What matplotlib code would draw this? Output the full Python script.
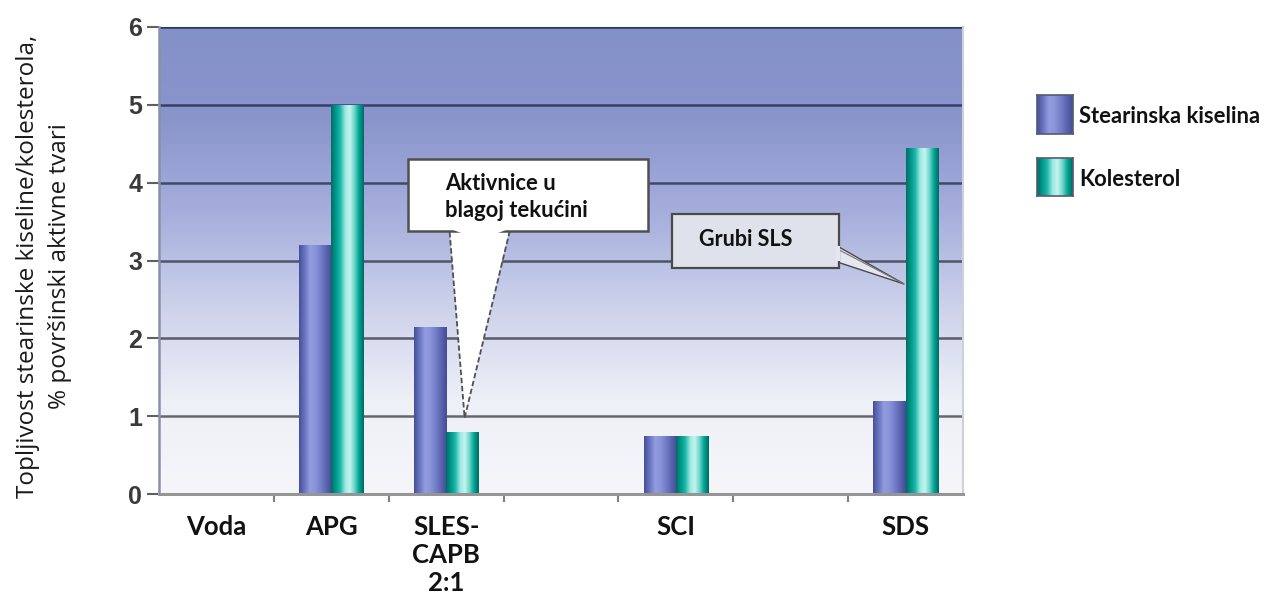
import numpy as np
import matplotlib
matplotlib.use("Agg")
import matplotlib.pyplot as plt
from matplotlib.colors import LinearSegmentedColormap, to_rgb
from matplotlib.patches import Polygon, Rectangle

categories = ["Voda", "APG", "SLES-\nCAPB\n2:1", "", "SCI", "", "SDS"]
stearinska = [0.0, 3.2, 2.15, 0.0, 0.75, 0.0, 1.2]
kolesterol = [0.0, 5.0, 0.8, 0.0, 0.75, 0.0, 4.45]
series_names = ["Stearinska kiselina", "Kolesterol"]
yticks = [0, 1, 2, 3, 4, 5, 6]

W, H = 1266, 596
fig = plt.figure(figsize=(W / 100, H / 100), dpi=100)
fig.patch.set_facecolor("white")

def px2fig(x0, y0, x1, y1):
    return [x0 / W, 1 - y1 / H, (x1 - x0) / W, (y1 - y0) / H]

ax = fig.add_axes(px2fig(159, 27, 963, 494))

blue_cmap = LinearSegmentedColormap.from_list(
    "b", ["#46509a", "#6a75c0", "#929ce0", "#8a94d8", "#737ec8", "#5a64b0", "#444e96"])
teal_cmap = LinearSegmentedColormap.from_list(
    "t", ["#006f66", "#00988b", "#20b8aa", "#9be8e0", "#c4f4ef", "#6fd6ca", "#00a595", "#006a62"])
bg_cmap = LinearSegmentedColormap.from_list(
    "bg", ["#f6f6fa", "#eef0f7", "#cdd2eb", "#a6afdc", "#8a95cc", "#8490c8"])

# background gradient
grad = np.linspace(0, 1, 256).reshape(-1, 1)
ax.imshow(grad, cmap=bg_cmap, origin="lower", aspect="auto",
          extent=[0, 1, 0, 1], transform=ax.transAxes, zorder=0)

x = np.arange(len(categories))
bw = 0.28
ax.set_xlim(-0.5, len(categories) - 0.5)
ax.set_ylim(0, 6)

# gridlines
top_c = np.array(to_rgb("#2c3463"))
bot_c = np.array(to_rgb("#707070"))
for t in yticks[1:]:
    f = t / 6.0
    c = bot_c * (1 - f) + top_c * f
    ax.axhline(t, color=c, lw=1.8, zorder=1)

bars1 = ax.bar(x - bw / 2, stearinska, bw, color="none", edgecolor="none", zorder=2)
bars2 = ax.bar(x + bw / 2, kolesterol, bw, color="none", edgecolor="none", zorder=2)
hgrad = np.linspace(0, 1, 64).reshape(1, -1)
for bars, cm in ((bars1, blue_cmap), (bars2, teal_cmap)):
    for r in bars:
        h = r.get_height()
        if h <= 0:
            continue
        im = ax.imshow(hgrad, cmap=cm, aspect="auto",
                       extent=[r.get_x(), r.get_x() + r.get_width(), 0, h], zorder=2)
        im.set_clip_path(r)
ax.set_xlim(-0.5, len(categories) - 0.5)
ax.set_ylim(0, 6)

# spines
ax.spines["top"].set_visible(False)
ax.spines["left"].set_color("#8a90a8")
ax.spines["left"].set_linewidth(1.8)
ax.spines["bottom"].set_color("#959595")
ax.spines["bottom"].set_linewidth(2.2)
ax.spines["right"].set_color("#cfd0d8")
ax.spines["right"].set_linewidth(1.5)

# ticks
ax.set_yticks(yticks)
ax.set_yticklabels([str(t) for t in yticks], fontfamily="Liberation Sans",
                   fontweight="bold", fontsize=18, color="#3a3a3a")
ax.tick_params(axis="y", length=9, width=1.5, color="#606060", pad=3)
ax.set_xticks(x)
ax.set_xticklabels(categories, fontfamily="Lato", fontweight="bold",
                   fontsize=18.5, color="#111111", linespacing=1.2)
ax.tick_params(axis="x", length=0, pad=15)
ax.set_xticks(np.arange(0.5, len(categories) - 0.5, 1.0), minor=True)
ax.tick_params(axis="x", which="minor", length=6, width=1.5, color="#808080")

# y label
fig.text(44 / W, 1 - 266 / H,
         "Topljivost stearinske kiseline/kolesterola,\n% površinski aktivne tvari",
         rotation=90, ha="center", va="center", multialignment="center",
         fontfamily="Open Sans", fontsize=17.5, color="#1a1a1a", linespacing=1.45)

# callout 1
def d(px, py):
    return ((px - 159) / 115.0 - 0.5, (494 - py) / 77.83)

bx0, by0 = d(408, 231)
bx1, by1 = d(649, 159)
wedge = Polygon([d(450, 229), d(465, 418), d(510, 229)], closed=True,
                facecolor="white", edgecolor="none", zorder=5)
ax.add_patch(wedge)
ax.plot(*zip(d(450, 232), d(465, 418), d(510, 232)), color="#505050", lw=1.3,
        ls=(0, (3, 1.5)), zorder=6)
ax.add_patch(Rectangle((bx0, by0), bx1 - bx0, by1 - by0, facecolor="white",
                       edgecolor="#505050", lw=1.8, zorder=5))
ax.add_patch(Polygon([d(451, 229), d(509, 229), d(480, 240)], closed=True,
                     facecolor="white", edgecolor="none", zorder=6))
tx, ty = d(445, 197)
ax.text(tx, ty, "Aktivnice u\nblagoj tekućini", ha="left", va="center",
        fontfamily="Lato", fontweight="bold", fontsize=15.8, color="#111111",
        linespacing=1.3, zorder=7)

# callout 2
cx0, cy0 = d(673, 268)
cx1, cy1 = d(840, 214)
ax.add_patch(Polygon([d(838, 246), d(905, 284), d(838, 262)], closed=True,
                     facecolor="#e4e7ef", edgecolor="#4a4a4a", lw=1.0, zorder=5))
ax.plot(*zip(d(840, 250), d(905, 284)), color="#777777", lw=0.8, zorder=6)
ax.add_patch(Rectangle((cx0, cy0), cx1 - cx0, cy1 - cy0, facecolor="#dfe2ea",
                       edgecolor="#4a4a4a", lw=1.6, zorder=5))
ax.add_patch(Rectangle(d(837, 261), 0.03, (262 - 247) / 77.83, facecolor="#e4e7ef",
                       edgecolor="none", zorder=6))
tx, ty = d(700, 240)
ax.text(tx, ty, "Grubi SLS", ha="left", va="center", fontfamily="Lato",
        fontweight="bold", fontsize=15.5, color="#111111", zorder=7)

# legend
for (y0, y1), cm, name in (((95, 134), blue_cmap, series_names[0]),
                           ((158, 196), teal_cmap, series_names[1])):
    lax = fig.add_axes(px2fig(1037, y0, 1073, y1))
    lax.imshow(hgrad, cmap=cm, aspect="auto")
    lax.set_xticks([]); lax.set_yticks([])
    for sp in lax.spines.values():
        sp.set_color("#555a70"); sp.set_linewidth(1.2)
    fig.text(1079 / W, 1 - ((y0 + y1) / 2 + 2) / H, name, ha="left", va="center",
             fontfamily="Lato", fontweight="bold", fontsize=15.8, color="#111111")

fig.savefig("out.png", dpi=100, facecolor="white")
